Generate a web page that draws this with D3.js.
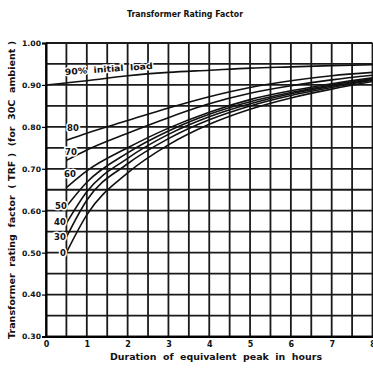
<!DOCTYPE html>
<html>
<head>
<meta charset="utf-8">
<script src="https://cdn.jsdelivr.net/npm/d3@7"></script>
<style>
  body { margin: 0; background: #fff; }
  svg { display: block; }
  text { font-family: "DejaVu Sans", sans-serif; font-weight: bold; fill: #111; }
</style>
</head>
<body>
<div id="chart"></div>
<script>
// hours of equivalent peak
const hoursFull = [0, 1, 2, 3, 4, 5, 6, 7, 8];
const hours = [0.5, 1, 2, 3, 4, 5, 6, 7, 8];

// TRF, one array per initial load
const load90 = [0.900, 0.910, 0.922, 0.930, 0.935, 0.940, 0.943, 0.946, 0.948];
const load80 = [0.768, 0.785, 0.815, 0.845, 0.872, 0.894, 0.910, 0.922, 0.930];
const load70 = [0.720, 0.745, 0.785, 0.822, 0.855, 0.880, 0.898, 0.912, 0.923];
const load60 = [0.655, 0.695, 0.750, 0.797, 0.835, 0.865, 0.886, 0.903, 0.917];
const load50 = [0.610, 0.668, 0.738, 0.790, 0.830, 0.860, 0.882, 0.900, 0.915];
const load40 = [0.570, 0.645, 0.725, 0.782, 0.824, 0.855, 0.879, 0.897, 0.913];
const load30 = [0.537, 0.625, 0.712, 0.772, 0.817, 0.850, 0.875, 0.894, 0.911];
const load0  = [0.500, 0.590, 0.690, 0.757, 0.806, 0.842, 0.869, 0.890, 0.908];

const curveNames = ["80", "70", "60", "50", "40", "30", "0"];
const yTicks = [1.0, 0.9, 0.8, 0.7, 0.6, 0.5, 0.4, 0.3];
const xTicks = [0, 1, 2, 3, 4, 5, 6, 7, 8];

const W = 373, H = 368;
const svg = d3.select("#chart").append("svg")
  .attr("width", W)
  .attr("height", H);

const x = d3.scaleLinear([0, 8], [46, 372.5]);
const y = d3.scaleLinear([0.3, 1.0], [336.5, 43]);

// grid: every half hour, every 0.05
const gridG = svg.append("g").attr("stroke", "#1a1a1a").attr("stroke-width", 1.8);
gridG.selectAll(".vx")
  .data(d3.range(0, 8.01, 0.5))
  .join("line")
  .attr("x1", d => x(d)).attr("x2", d => x(d))
  .attr("y1", y(1.0)).attr("y2", y(0.3));
gridG.selectAll(".hy")
  .data(d3.range(0.3, 1.001, 0.05))
  .join("line")
  .attr("x1", x(0)).attr("x2", x(8))
  .attr("y1", d => y(d)).attr("y2", d => y(d));

// axes
svg.append("g")
  .attr("transform", `translate(${x(0)},0)`)
  .call(d3.axisLeft(y).tickValues(yTicks).tickFormat(d3.format(".2f")).tickSize(4).tickPadding(1))
  .call(g => g.select(".domain").attr("stroke-width", 2))
  .call(g => g.selectAll(".tick line").attr("stroke-width", 1.2))
  .call(g => g.selectAll("text").attr("font-size", 7.5).attr("textLength", 19).attr("lengthAdjust", "spacingAndGlyphs"));

svg.append("g")
  .attr("transform", `translate(0,${y(0.3)})`)
  .call(d3.axisBottom(x).tickValues(xTicks).tickSize(0).tickPadding(5))
  .call(g => g.select(".domain").attr("stroke-width", 2.2))
  .call(g => g.selectAll("text").attr("font-size", 8));

// curves
const line = d3.line()
  .x(d => x(d[0]))
  .y(d => y(d[1]))
  .curve(d3.curveMonotoneX);

const series = [load80, load70, load60, load50, load40, load30, load0];
const curveG = svg.append("g").attr("fill", "none").attr("stroke", "#111").attr("stroke-width", 1.6);
curveG.append("path").attr("d", line(d3.zip(hoursFull, load90)));
curveG.selectAll(".c")
  .data(series)
  .join("path")
  .attr("d", d => line(d3.zip(hours, d)));

// curve labels (white halo blanks the grid under them)
const labelPos = [[73, 131], [71, 155], [70, 177], [61, 209], [60, 225], [60, 240], [63, 256]];
svg.append("g")
  .selectAll("text")
  .data(curveNames)
  .join("text")
  .attr("x", (d, i) => labelPos[i][0])
  .attr("y", (d, i) => labelPos[i][1])
  .attr("text-anchor", "middle")
  .attr("font-size", 8.5)
  .attr("stroke", "#fff").attr("stroke-width", 3).attr("paint-order", "stroke")
  .text(d => d);

svg.append("text")
  .attr("transform", "translate(65,75) rotate(-4)")
  .attr("font-size", 8.5)
  .attr("stroke", "#fff").attr("stroke-width", 2.5).attr("paint-order", "stroke")
  .attr("textLength", 88).attr("lengthAdjust", "spacingAndGlyphs")
  .attr("xml:space", "preserve")
  .text("90%  initial  load");

// titles
svg.append("text")
  .attr("x", 185).attr("y", 17)
  .attr("text-anchor", "middle")
  .attr("font-size", 8)
  .attr("textLength", 116).attr("lengthAdjust", "spacingAndGlyphs")
  .text("Transformer Rating Factor");

svg.append("text")
  .attr("transform", "translate(15,190) rotate(-90)")
  .attr("text-anchor", "middle")
  .attr("font-size", 8.5)
  .attr("textLength", 298).attr("lengthAdjust", "spacingAndGlyphs")
  .attr("xml:space", "preserve")
  .text("Transformer  rating  factor  ( TRF )  (for  30C  ambient )");

svg.append("text")
  .attr("x", 216).attr("y", 360)
  .attr("text-anchor", "middle")
  .attr("font-size", 8)
  .attr("textLength", 212).attr("lengthAdjust", "spacingAndGlyphs")
  .attr("xml:space", "preserve")
  .text("Duration  of  equivalent  peak  in  hours");
</script>
</body>
</html>
